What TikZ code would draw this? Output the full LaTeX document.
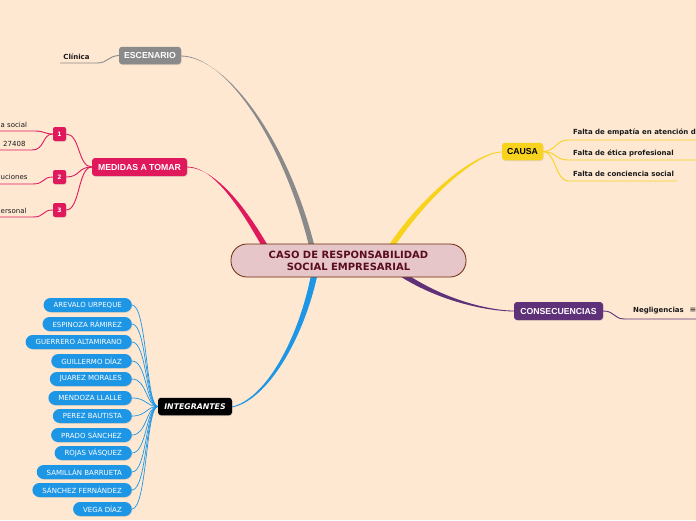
\documentclass[tikz,border=0pt]{standalone}
\usepackage{fontspec}
\setmainfont{DejaVu Sans}
\newfontfamily\boxfont{Liberation Sans}
\usetikzlibrary{calc,shadows}
\definecolor{bg}{HTML}{FEE8D2}
\definecolor{cfill}{HTML}{E6C6C8}
\definecolor{cborder}{HTML}{6B2A0C}
\definecolor{ctext}{HTML}{5A0D20}
\definecolor{cgrey}{HTML}{8A8A8A}
\definecolor{cpink}{HTML}{E0195C}
\definecolor{cyellow}{HTML}{F8D31E}
\definecolor{cpurple}{HTML}{5F3179}
\definecolor{cblue}{HTML}{1E96E6}
\definecolor{leaftext}{HTML}{1A1A1A}
\begin{document}
\begin{tikzpicture}[x=1pt,y=-1pt,
  mainbox/.style={draw=cborder, fill=cfill, line width=0.8pt, rounded corners=16pt,
    minimum width=235pt, minimum height=33pt, inner sep=0pt, align=center, text=ctext,
    font=\bfseries\fontsize{10}{12}\selectfont},
  topic/.style={rounded corners=3pt, inner sep=0pt, minimum height=17.5pt,
    font=\boxfont\bfseries\fontsize{8.7}{10}\selectfont, text=white,
    drop shadow={opacity=0.2,shadow xshift=0.6pt,shadow yshift=-0.8pt}},
  numbox/.style={fill=cpink, rounded corners=2pt, inner sep=0pt, minimum width=13pt,
    minimum height=14pt, text=white, font=\bfseries\fontsize{6}{7}\selectfont,
    drop shadow={opacity=0.2,shadow xshift=0.6pt,shadow yshift=-0.8pt}},
  pill/.style={fill=cblue, rounded corners=7pt, inner xsep=10pt, inner ysep=0pt,
    minimum height=14pt, text=white, anchor=east, font=\fontsize{7}{8}\selectfont,
    drop shadow={opacity=0.2,shadow xshift=0.6pt,shadow yshift=-0.8pt}},
  leaf/.style={inner sep=0pt, text=leaftext, font=\bfseries\fontsize{7}{8}\selectfont},
  leafr/.style={inner sep=0pt, text=leaftext, font=\fontsize{7}{8}\selectfont},
  thin/.style={line width=0.9pt},
]
\useasboundingbox (0,0) rectangle (696,520);
\fill[bg] (0,0) rectangle (696,520);

% ---------- positions ----------
\coordinate (cc) at (348.5,260.5);
\coordinate (escpos) at (150,55.5);
\coordinate (medpos) at (139.5,167);
\coordinate (caupos) at (522.5,151.5);
\coordinate (conpos) at (558.5,311);
\coordinate (intpos) at (195,406.5);

% thick tapered branches (under the nodes)
\fill[cgrey] (181,55.6) .. controls (225,55.6) and (284,140) .. (310.5,252)
  -- (316,252) .. controls (289,140) and (226,56.4) .. (181,56.4) -- cycle;
\fill[cpink] (187,166.6) .. controls (212,166.6) and (238,203) .. (265,252)
  -- (271.5,252) .. controls (244,203) and (213,167.4) .. (187,167.4) -- cycle;
\fill[cyellow] (502,151.6) .. controls (475,151.6) and (418,198) .. (384.5,252)
  -- (391,252) .. controls (423,201) and (476,152.4) .. (502,152.4) -- cycle;
\fill[cblue] (232,406.6) .. controls (265,399) and (299,340) .. (312,270)
  -- (318.5,270) .. controls (304,341) and (266,401) .. (232,407.4) -- cycle;
\fill[cpurple] (514,310.6) .. controls (489,310.6) and (440,299) .. (398,268)
  -- (395,273) .. controls (438,302) and (489,311.4) .. (514,311.4) -- cycle;

\node[mainbox] (main) at (cc) {CASO DE RESPONSABILIDAD\\SOCIAL EMPRESARIAL};

\node[topic, fill=cgrey, minimum width=62pt] (esc) at (escpos) {ESCENARIO};
\node[topic, fill=cpink, minimum width=95pt, minimum height=18pt] (med) at (medpos) {MEDIDAS A TOMAR};
\node[topic, fill=cyellow, text=black, minimum width=41pt] (cau) at (caupos) {CAUSA};
\node[topic, fill=cpurple, minimum width=89pt, minimum height=18pt] (con) at (conpos) {CONSECUENCIAS};
\node[topic, fill=black, minimum width=74pt, font=\bfseries\itshape\fontsize{7.8}{9}\selectfont] (int) at (intpos) {INTEGRANTES};

% ---------- ESCENARIO leaf ----------
\node[leaf] (cli) at (76.5,56.5) {Clínica};
\coordinate (cla) at (60,63);
\coordinate (clb) at (97,63);
\draw[cgrey, thin] (cla) -- (clb) .. controls (108,63) and (108,56) .. (esc.west);

% ---------- MEDIDAS ----------
\node[numbox] (n1) at (59.5,134) {1};
\node[numbox] (n2) at (59.5,177) {2};
\node[numbox] (n3) at (59.5,210) {3};
\foreach \n in {n1,n2,n3}
  \draw[cpink, thin] (med.west) .. controls +(-14,0) and +(14,0) .. (\n.east);

\node[leafr, anchor=west] (m1) at (0.5,124.5) {a social};
\node[leafr, anchor=west] (m2) at (3,143.5) {27408};
\node[leafr, anchor=west] (m3) at (0.5,177) {uciones};
\node[leafr, anchor=west] (m4) at (0.5,210.5) {ersonal};
\coordinate (m1a) at (0,131); \coordinate (m1b) at (35,131);
\coordinate (m2a) at (0,150); \coordinate (m2b) at (32,150);
\coordinate (m3a) at (0,184); \coordinate (m3b) at (33,184);
\coordinate (m4a) at (0,217); \coordinate (m4b) at (33,217);
\draw[cpink, thin] (m1a) -- (m1b) .. controls (45,131) and (44,134) .. (n1.west);
\draw[cpink, thin] (m2a) -- (m2b) .. controls (45,150) and (42,134) .. (n1.west);
\draw[cpink, thin] (m3a) -- (m3b) .. controls (45,184) and (42,177) .. (n2.west);
\draw[cpink, thin] (m4a) -- (m4b) .. controls (45,217) and (42,210) .. (n3.west);

% ---------- CAUSA ----------
\node[leaf, anchor=west] (c1) at (573,132) {Falta de empatía en atención de};
\node[leaf, anchor=west] (c2) at (573,153) {Falta de ética profesional};
\node[leaf, anchor=west] (c3) at (573,173.5) {Falta de conciencia social};
\coordinate (c1a) at (568,140); \coordinate (c1b) at (696,140);
\coordinate (c2a) at (568,160); \coordinate (c2b) at (696,160);
\coordinate (c3a) at (568,181); \coordinate (c3b) at (677,181);
\draw[cyellow, thin] (cau.east) .. controls +(12,0) and +(-12,0) .. (c1a) -- (c1b);
\draw[cyellow, thin] (cau.east) .. controls +(12,0) and +(-12,0) .. (c2a) -- (c2b);
\draw[cyellow, thin] (cau.east) .. controls +(12,0) and +(-12,0) .. (c3a) -- (c3b);

% ---------- CONSECUENCIAS ----------
\node[leaf, anchor=west] (neg) at (633,310.5) {Negligencias};
\node[inner sep=0pt, text=leaftext, font=\fontsize{8}{9}\selectfont] (note) at (693,310.5) {≡};
\coordinate (nga) at (625,319); \coordinate (ngb) at (696,319);
\draw[cpurple, thin] (con.east) .. controls +(12,0) and +(-12,0) .. (nga) -- (ngb);

% ---------- INTEGRANTES ----------
\foreach \i/\y/\lab in {1/305/AREVALO URPEQUE, 2/324/ESPINOZA RÁMIREZ, 3/342/GUERRERO ALTAMIRANO,
  4/361/GUILLERMO DÍAZ, 5/379/JUAREZ MORALES, 6/398/MENDOZA LLALLE, 7/416/PEREZ BAUTISTA,
  8/435/PRADO SÁNCHEZ, 9/453/ROJAS VÁSQUEZ, 10/472/SAMILLÁN BARRUETA,
  11/490/SÁNCHEZ FERNÁNDEZ, 12/509/VEGA DÍAZ}{
  \draw[cblue, line width=0.7pt] (132,\y) .. controls (147,\y) and (146,406.5) .. (int.west);
  \node[pill] (p\i) at (132,\y) {\lab};
}
\end{tikzpicture}
\end{document}
